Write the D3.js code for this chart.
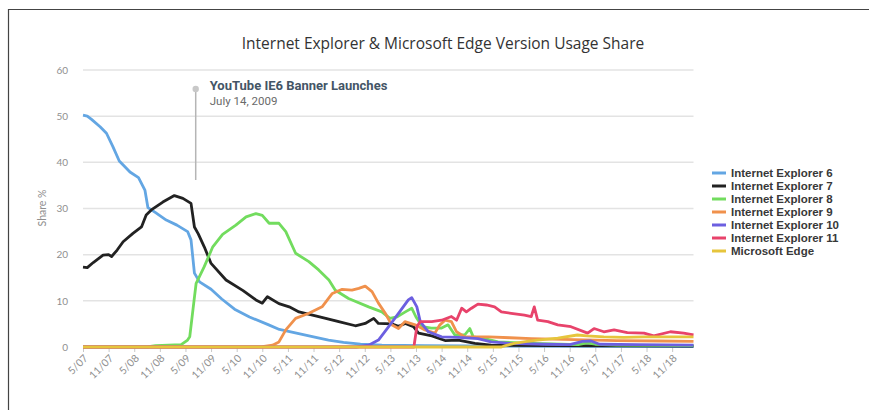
<!DOCTYPE html>
<html>
<head>
<meta charset="utf-8">
<script src="https://cdn.jsdelivr.net/npm/d3@7"></script>
<style>
  body { margin: 0; background: #fff; }
  svg { display: block; }
</style>
</head>
<body>
<div id="chart"></div>
<script>
// month offsets counted from May 2007
var tickLabels = ["5/07","11/07","5/08","11/08","5/09","11/09","5/10","11/10","5/11","11/11","5/12","11/12",
                  "5/13","11/13","5/14","11/14","5/15","11/15","5/16","11/16","5/17","11/17","5/18","11/18"];
var yTicks = [0, 10, 20, 30, 40, 50, 60];
var seriesNames = ["Internet Explorer 6","Internet Explorer 7","Internet Explorer 8","Internet Explorer 9",
                   "Internet Explorer 10","Internet Explorer 11","Microsoft Edge"];
var seriesColors = ["#63a6e3","#222222","#72dc5e","#f0914c","#6c5fe0","#e8436b","#e6c53c"];

var ie6 = [[0,50.2],[1,50],[2,49.3],[4,47.7],[5.5,46.3],[7,43.4],[8.5,40.3],[11,37.9],[13,36.7],[14.5,34],
  [15.2,30.2],[17,29.1],[19.5,27.5],[22,26.4],[24.5,25],[25.3,23.2],[26.1,16],[27.3,14.1],[30,12.5],
  [32.5,10.4],[35.5,8.2],[39,6.5],[43.5,4.8],[46,3.8],[50,3.0],[54,2.2],[57.5,1.5],[61,1.0],[65,0.6],
  [70,0.4],[80,0.3],[100,0.2],[143,0.1]];
var ie7 = [[0,17.3],[1,17.2],[2.4,18.3],[4.7,19.9],[6,20],[6.7,19.6],[8,21],[9.4,22.8],[11.7,24.6],[13.7,26],
  [14.8,28.6],[16,29.7],[18.7,31.4],[21.4,32.8],[23.4,32.2],[25.3,31.1],[26.1,26],[27,24.5],[28.4,21.7],
  [30,18.1],[33.5,14.5],[37.5,12.2],[40.5,10.2],[42,9.5],[43.2,10.9],[45.9,9.4],[48.3,8.7],[50.6,7.6],
  [55.2,6.6],[59.9,5.5],[63.8,4.6],[66.1,5.1],[68.1,6.2],[69.2,5.1],[72.3,5.0],[73.9,4.5],[75.5,5.1],
  [77.4,4.4],[78.6,3.0],[81.7,2.4],[84.8,1.4],[87.9,1.5],[91.8,0.8],[95.6,0.4],[110,0.3],[143,0.2]];
var ie8 = [[0,0],[15,0],[17,0.3],[23,0.5],[24.5,1.5],[25,2.2],[26,10],[26.5,13.8],[28.4,17.4],[30.4,21.7],
  [32.7,24.4],[35.8,26.4],[38.2,28.2],[40.5,28.9],[42,28.5],[43.6,26.8],[45.9,26.8],[47.5,25],[49.8,20.3],
  [52.9,18.5],[55.2,16.7],[57.6,14.5],[59.1,12.3],[62.2,10.5],[66.9,8.7],[70,7.6],[71.9,6.2],[73.5,6.5],
  [75.5,7.6],[77,8.4],[78,6.5],[79.5,4.4],[81.6,4.1],[84,4.1],[85.5,4.8],[87.1,2.6],[89.4,2.6],[90.6,4.0],
  [91.4,2.2],[94.1,1.8],[97.2,1.1],[105,0.8],[112,0.6],[116,0.5],[118,0.9],[120,0.6],[125,0.4],[143,0.3]];
var ie9 = [[0,0],[40,0],[42,0.1],[44.4,0.4],[45.9,1.1],[47.5,3.7],[49.8,6.2],[52.9,7.3],[56,8.7],[58.4,11.6],
  [60.7,12.5],[63,12.3],[64.6,12.7],[66.1,13.2],[67.7,12.0],[69.2,9.5],[70.8,7.3],[72.3,4.8],[73.9,4.0],
  [75.4,5.5],[77.8,4.8],[80.1,3.7],[82.4,3.0],[83.6,4.8],[84.8,5.8],[86.3,5.5],[87.5,3.3],[89.4,2.2],
  [95,2.2],[100,2.0],[105,1.8],[115,1.6],[125,1.4],[135,1.3],[143,1.2]];
var ie10 = [[0,0],[64,0],[66.9,0.4],[69.2,1.5],[71.6,4.4],[73.9,7.3],[76.2,10.2],[77,10.7],[78.2,8.7],[79,5.5],
  [80.9,3.3],[84,2.2],[87.9,2.1],[92.5,1.8],[95.6,1.1],[100,0.8],[108,0.6],[114,0.5],[117,1.2],[119,1.3],
  [121,0.6],[130,0.5],[143,0.4]];
var ie11 = [[0,0],[77.5,0],[78.2,4.4],[79,5.5],[81.7,5.5],[84,5.8],[86.3,6.6],[87.5,5.8],[88.7,8.4],[89.8,7.6],
  [91,8.4],[92.5,9.3],[94.5,9.1],[96.4,8.7],[98,7.6],[100.3,7.3],[103.4,6.9],[105,6.6],[105.7,8.7],[106.5,5.8],
  [108.9,5.5],[111.2,4.8],[114.3,4.4],[118.2,3.0],[119.7,4.0],[122,3.3],[124.4,3.7],[127.5,3.1],[131.4,3.0],
  [133.7,2.4],[137.6,3.3],[140.7,3.0],[143,2.6]];
var edge = [[0,0],[98,0],[99,0.3],[101,0.8],[104,1.2],[106.5,1.5],[111.2,1.9],[115.8,2.6],[118,2.4],[122,2.2],
  [126.7,2.1],[131.4,2.2],[137.6,2.2],[143,2.2]];

var allSeries = [ie6, ie7, ie8, ie9, ie10, ie11, edge];

var width = 869, height = 410;
var svg = d3.select("#chart").append("svg")
  .attr("width", width)
  .attr("height", height);

// frame: top and left edges only
svg.append("path")
  .attr("d", "M8.5,410V9.5H869")
  .attr("fill", "none")
  .attr("stroke", "#444")
  .attr("stroke-width", 1.2);

var x = d3.scaleLinear().domain([0, 143]).range([83, 693.5]);
var y = d3.scaleLinear().domain([0, 60]).range([347, 70]);

// gridlines
svg.append("g")
  .selectAll("line")
  .data(yTicks)
  .enter()
  .append("line")
  .attr("x1", x(0))
  .attr("x2", x(143))
  .attr("y1", function(d){ return y(d); })
  .attr("y2", function(d){ return y(d); })
  .attr("stroke", "#e3e3e3")
  .attr("stroke-width", 1.5);

// y axis labels
var yAxis = d3.axisLeft(y).tickValues(yTicks).tickSize(0).tickPadding(0);
var yg = svg.append("g")
  .attr("transform", "translate(68,0)")
  .call(yAxis);
yg.select(".domain").remove();
yg.selectAll("text")
  .attr("fill", "#8f8f8f")
  .style("font-family", "Lato, 'Open Sans', sans-serif")
  .style("font-size", "10px");

// x axis
var xAxis = d3.axisBottom(x)
  .tickValues(tickLabels.map(function(d, i){ return i * 6; }))
  .tickFormat(function(d, i){ return tickLabels[i]; })
  .tickSize(5)
  .tickPadding(2);
var xg = svg.append("g")
  .attr("transform", "translate(0,347)")
  .call(xAxis);
xg.select(".domain").remove();
xg.selectAll(".tick line").attr("stroke", "#c8c8c8");
xg.selectAll("text")
  .attr("fill", "#8f8f8f")
  .style("font-family", "Lato, 'Open Sans', sans-serif")
  .style("font-size", "10.5px")
  .attr("text-anchor", "end")
  .attr("dy", null)
  .attr("y", null)
  .attr("transform", "translate(5,12) rotate(-45)");

// y title
svg.append("text")
  .attr("transform", "translate(46,208) rotate(-90)")
  .attr("text-anchor", "middle")
  .attr("fill", "#8f8f8f")
  .style("font-family", "Lato, 'Open Sans', sans-serif")
  .style("font-size", "10.5px")
  .text("Share %");

// title
svg.append("text")
  .attr("x", 443).attr("y", 49)
  .attr("text-anchor", "middle")
  .attr("fill", "#333")
  .style("font-family", "'Open Sans', sans-serif")
  .style("font-size", "15.5px")
  .text("Internet Explorer & Microsoft Edge Version Usage Share");

// annotation: July 14, 2009 = month offset 26.4
var annX = x(26.4);
svg.append("line")
  .attr("x1", annX).attr("x2", annX)
  .attr("y1", 89).attr("y2", 180)
  .attr("stroke", "#b5b5b5")
  .attr("stroke-width", 1.5);
svg.append("circle")
  .attr("cx", annX).attr("cy", 89).attr("r", 3.2)
  .attr("fill", "#c8c8c8");
svg.append("text")
  .attr("x", annX + 14).attr("y", 90)
  .attr("fill", "#445566")
  .style("font-family", "Roboto, 'Open Sans', sans-serif")
  .style("font-weight", "bold")
  .style("font-size", "13px")
  .text("YouTube IE6 Banner Launches");
svg.append("text")
  .attr("x", annX + 14).attr("y", 105)
  .attr("fill", "#6a6a6a")
  .style("font-family", "Roboto, 'Open Sans', sans-serif")
  .style("font-size", "11.5px")
  .text("July 14, 2009");

// lines
var line = d3.line()
  .x(function(d){ return x(d[0]); })
  .y(function(d){ return y(d[1]); })
  .curve(d3.curveLinear);

svg.append("g")
  .selectAll("path")
  .data(allSeries)
  .enter()
  .append("path")
  .attr("d", line)
  .attr("fill", "none")
  .attr("stroke", function(d, i){ return seriesColors[i]; })
  .attr("stroke-width", 2.8)
  .attr("stroke-linejoin", "round");

// legend
var legend = svg.append("g")
  .selectAll("g")
  .data(seriesNames)
  .enter()
  .append("g")
  .attr("transform", function(d, i){ return "translate(712," + (173 + i * 13) + ")"; });
legend.append("line")
  .attr("x1", 0).attr("x2", 14)
  .attr("stroke", function(d, i){ return seriesColors[i]; })
  .attr("stroke-width", 3);
legend.append("text")
  .attr("x", 19).attr("y", 4)
  .attr("fill", "#383838")
  .style("font-family", "'Liberation Sans', Arial, sans-serif")
  .style("font-weight", "bold")
  .style("font-size", "11.5px")
  .text(function(d){ return d; });
</script>
</body>
</html>
